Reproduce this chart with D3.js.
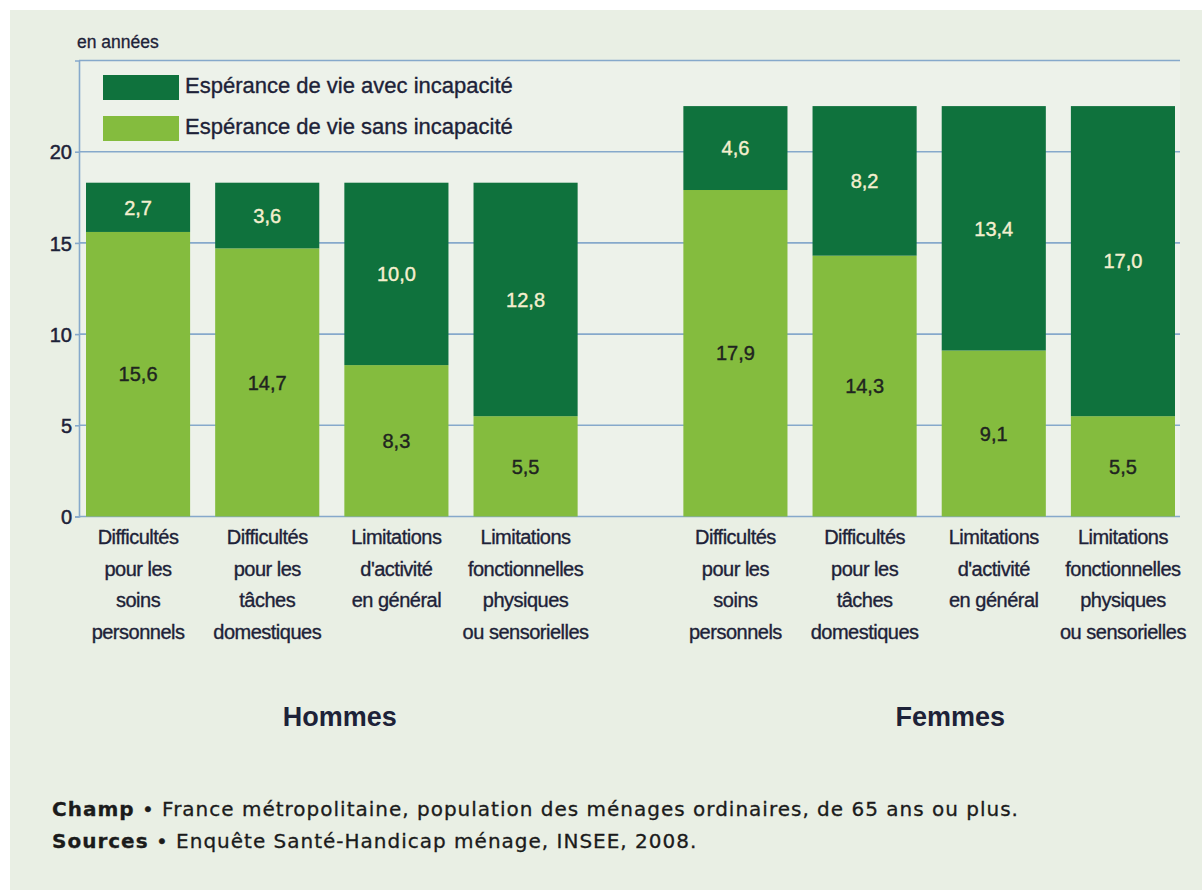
<!DOCTYPE html>
<html lang="fr">
<head>
<meta charset="utf-8">
<title>Espérance de vie à 65 ans avec et sans incapacité</title>
<script src="https://cdn.jsdelivr.net/npm/d3@7"></script>
<style>
  html, body { margin: 0; padding: 0; background: #ffffff; }
  svg { display: block; }
  .axis text { font-family: "Liberation Sans", Arial, sans-serif; }
</style>
</head>
<body>
<div id="chart"></div>
<script>
// données (en années, à 65 ans)
const groups = ["Hommes", "Femmes"];
const categories = ["soins", "taches", "activite", "fonctionnelles"];
const categoryLabels = [
  ["Difficultés", "pour les", "soins", "personnels"],
  ["Difficultés", "pour les", "tâches", "domestiques"],
  ["Limitations", "d'activité", "en général"],
  ["Limitations", "fonctionnelles", "physiques", "ou sensorielles"]
];
const hommesSans = [15.6, 14.7, 8.3, 5.5];
const hommesAvec = [2.7, 3.6, 10.0, 12.8];
const femmesSans = [17.9, 14.3, 9.1, 5.5];
const femmesAvec = [4.6, 8.2, 13.4, 17.0];
const yTicks = [0, 5, 10, 15, 20];
const yMax = 25;

const seriesKeys = ["sans", "avec"];
const seriesNames = {
  avec: "Espérance de vie avec incapacité",
  sans: "Espérance de vie sans incapacité"
};
const colors = { avec: "#0f723d", sans: "#84bc3e" };

const rows = [];
groups.forEach((g) => {
  const sans = g === "Hommes" ? hommesSans : femmesSans;
  const avec = g === "Hommes" ? hommesAvec : femmesAvec;
  categories.forEach((c, i) => {
    rows.push({ group: g, category: c, sans: sans[i], avec: avec[i] });
  });
});

const width = 1202;
const height = 890;
const plotLeft = 79;
const plotRight = 1180;
const plotTop = 60.5;
const plotBottom = 516.5;
const textColor = "#1d2238";
const gridColor = "#86a9cb";
const sansFont = "Liberation Sans, Arial, sans-serif";

const fr = d3.formatLocale({
  decimal: ",",
  thousands: "\u00a0",
  grouping: [3],
  currency: ["", " €"]
});
const fmt = fr.format(".1f");

const svg = d3
  .select("#chart")
  .append("svg")
  .attr("width", width)
  .attr("height", height)
  .attr("viewBox", [0, 0, width, height]);

// fond
svg
  .append("rect")
  .attr("x", 10)
  .attr("y", 10)
  .attr("width", width - 10)
  .attr("height", height - 10)
  .attr("fill", "#e9efe4");

svg
  .append("rect")
  .attr("x", plotLeft)
  .attr("y", plotTop)
  .attr("width", plotRight - plotLeft)
  .attr("height", plotBottom - plotTop)
  .attr("fill", "#edf2ea");

const y = d3.scaleLinear().domain([0, yMax]).range([plotBottom, plotTop]);

const x0 = d3
  .scaleBand()
  .domain(groups)
  .range([86, 1175])
  .paddingInner(0.177)
  .paddingOuter(0);

const x1 = d3
  .scaleBand()
  .domain(categories)
  .range([0, x0.bandwidth()])
  .paddingInner(0.194)
  .paddingOuter(0);

// grille
svg
  .append("g")
  .attr("class", "grid")
  .selectAll("line")
  .data(yTicks.concat([yMax]))
  .join("line")
  .attr("x1", plotLeft)
  .attr("x2", plotRight)
  .attr("y1", (d) => y(d))
  .attr("y2", (d) => y(d))
  .attr("stroke", gridColor)
  .attr("stroke-width", 1.6);

// axe vertical
const yAxis = svg
  .append("g")
  .attr("class", "axis")
  .attr("transform", `translate(${plotLeft},0)`)
  .call(d3.axisLeft(y).tickValues(yTicks).tickSize(4).tickPadding(3).tickFormat(d3.format("d")));

yAxis.select(".domain").attr("stroke", gridColor).attr("stroke-width", 1.6);
yAxis.selectAll(".tick line").attr("stroke", gridColor).attr("stroke-width", 1.6);
yAxis
  .selectAll(".tick text")
  .attr("fill", textColor)
  .attr("stroke", textColor)
  .attr("stroke-width", 0.5)
  .attr("font-size", 20)
  .attr("dy", "0.36em");

svg
  .append("text")
  .attr("x", plotLeft - 2)
  .attr("y", 48)
  .attr("fill", textColor)
  .attr("stroke", textColor)
  .attr("stroke-width", 0.3)
  .attr("font-family", sansFont)
  .attr("font-size", 17.5)
  .text("en années");

// barres empilées
const stacked = d3.stack().keys(seriesKeys)(rows);

const barX = (d) => x0(d.data.group) + x1(d.data.category);

svg
  .append("g")
  .selectAll("g")
  .data(stacked)
  .join("g")
  .attr("fill", (s) => colors[s.key])
  .selectAll("rect")
  .data((s) => s)
  .join("rect")
  .attr("x", barX)
  .attr("width", x1.bandwidth())
  .attr("y", (d) => y(d[1]))
  .attr("height", (d) => y(d[0]) - y(d[1]));

// valeurs
svg
  .append("g")
  .selectAll("g")
  .data(stacked)
  .join("g")
  .attr("fill", (s) => (s.key === "avec" ? "#f4efcf" : "#1f2420"))
  .attr("stroke", (s) => (s.key === "avec" ? "#f4efcf" : "#1f2420"))
  .attr("stroke-width", 0.4)
  .selectAll("text")
  .data((s) => s.map((d) => Object.assign({ key: s.key }, d)))
  .join("text")
  .attr("x", (d) => barX(d) + x1.bandwidth() / 2)
  .attr("y", (d) => y((d[0] + d[1]) / 2))
  .attr("dy", "0.36em")
  .attr("text-anchor", "middle")
  .attr("font-family", sansFont)
  .attr("font-size", 20)
  .text((d) => fmt(d.data[d.key]));

// libellés des catégories
const catLabels = svg
  .append("g")
  .selectAll("text")
  .data(rows)
  .join("text")
  .attr("x", (d) => x0(d.group) + x1(d.category) + x1.bandwidth() / 2)
  .attr("y", 544)
  .attr("text-anchor", "middle")
  .attr("fill", textColor)
  .attr("stroke", textColor)
  .attr("stroke-width", 0.35)
  .attr("font-family", sansFont)
  .attr("font-size", 20)
  .attr("letter-spacing", -0.5);

catLabels
  .selectAll("tspan")
  .data((d) => categoryLabels[categories.indexOf(d.category)])
  .join("tspan")
  .attr("x", function () {
    return d3.select(this.parentNode).attr("x");
  })
  .attr("dy", (d, i) => (i === 0 ? 0 : 31.5))
  .text((d) => d);

// libellés des groupes
const groupShift = { Hommes: 8, Femmes: 21 };

svg
  .append("g")
  .selectAll("text")
  .data(groups)
  .join("text")
  .attr("x", (g) => x0(g) + x0.bandwidth() / 2 + groupShift[g])
  .attr("y", 726)
  .attr("text-anchor", "middle")
  .attr("fill", textColor)
  .attr("font-family", sansFont)
  .attr("font-weight", "bold")
  .attr("font-size", 27)
  .text((g) => g);

// légende
const legend = svg
  .append("g")
  .selectAll("g")
  .data(["avec", "sans"])
  .join("g")
  .attr("transform", (d, i) => `translate(103,${75 + i * 41})`);

legend
  .append("rect")
  .attr("width", 76)
  .attr("height", 25)
  .attr("fill", (d) => colors[d]);

legend
  .append("text")
  .attr("x", 82)
  .attr("y", 18)
  .attr("fill", textColor)
  .attr("stroke", textColor)
  .attr("stroke-width", 0.35)
  .attr("font-family", sansFont)
  .attr("font-size", 22)
  .text((d) => seriesNames[d]);

// notes
const notes = [
  ["Champ", " • France métropolitaine, population des ménages ordinaires, de 65 ans ou plus."],
  ["Sources", " • Enquête Santé-Handicap ménage, INSEE, 2008."]
];

const noteText = svg
  .append("g")
  .selectAll("text")
  .data(notes)
  .join("text")
  .attr("x", 52)
  .attr("y", (d, i) => 816 + i * 32)
  .attr("fill", "#1b1b1b")
  .attr("stroke", "#1b1b1b")
  .attr("stroke-width", 0.3)
  .attr("font-family", "DejaVu Sans, Verdana, sans-serif")
  .attr("font-size", 20)
  .attr("letter-spacing", 1);

noteText
  .append("tspan")
  .attr("font-weight", "bold")
  .text((d) => d[0]);

noteText.append("tspan").text((d) => d[1]);
</script>
</body>
</html>
